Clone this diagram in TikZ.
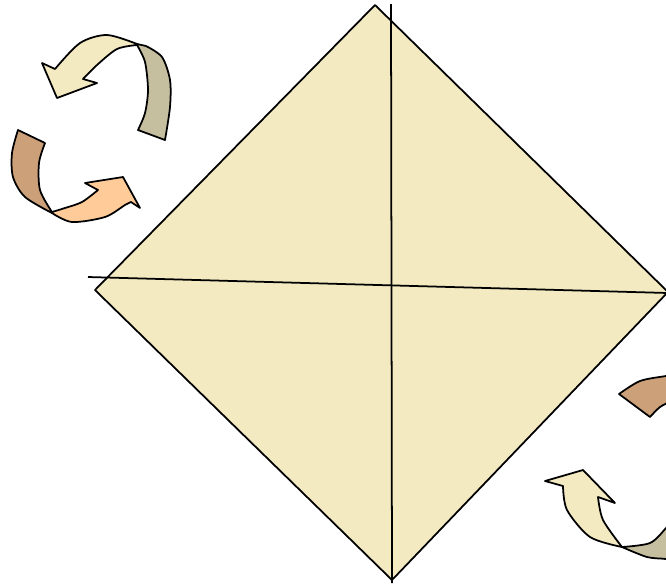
\documentclass[tikz,border=0pt]{standalone}
\usepackage{tikz}
\definecolor{paper}{HTML}{F3EAC2}
\definecolor{twist}{HTML}{C6BF9F}
\definecolor{clay}{HTML}{CCA078}
\definecolor{peach}{HTML}{FFCC99}
\begin{document}
\begin{tikzpicture}[x=0.02cm, y=-0.02cm, line width=1pt, line join=round,
    ribbon/.style={draw=black, fill=#1}]
\useasboundingbox (0,0) rectangle (666,583);
\clip (0,0) rectangle (666,583);

\coordinate (N) at (375,5);
\coordinate (E) at (668,292);
\coordinate (S) at (392,580);
\coordinate (W) at (95,290);
\coordinate (v1) at (391,4);
\coordinate (v2) at (392,583);
\coordinate (h1) at (88,277);
\coordinate (h2) at (668,293);

\filldraw[ribbon=paper] (N) -- (E) -- (S) -- (W) -- cycle;
\draw (v1) -- (v2);
\draw (h1) -- (h2);

% upper left arrow
\filldraw[ribbon=paper] (55,69) -- (42,63) -- (57,98) -- (97,83) -- (83,79)
    -- plot[smooth] coordinates {(83,79) (97,65) (117,49) (137,45)}
    -- plot[smooth] coordinates {(137,44) (107,35) (80,43) (55,69)} -- cycle;
\filldraw[ribbon=twist] (137,44) -- (146,46)
    -- plot[smooth] coordinates {(146,46) (162,57) (170,80) (170,107) (165,140)}
    -- (138,130)
    -- plot[smooth] coordinates {(138,130) (145,113) (148,90) (145,62) (137,45)} -- cycle;

% lower left arrow
\filldraw[ribbon=clay] (18,130) -- (45,143)
    -- plot[smooth] coordinates {(45,143) (39,163) (40,190) (52,212)}
    -- plot[smooth] coordinates {(52,213) (25,197) (13,177) (12,153) (18,130)} -- cycle;
\filldraw[ribbon=peach] (52,213)
    -- plot[smooth] coordinates {(52,213) (72,222) (105,217) (125,205) (131,202)}
    -- (140,208) -- (123,177) -- (85,183) -- (98,190)
    -- plot[smooth] coordinates {(98,190) (82,202) (65,208) (52,212)} -- cycle;

% lower right arrow
\filldraw[ribbon=paper] (545,481) -- (583,470) -- (615,503) -- (598,497)
    -- plot[smooth] coordinates {(598,497) (603,520) (622,547)}
    -- plot[smooth] coordinates {(622,547) (590,537) (567,510) (563,486)} -- cycle;
\filldraw[ribbon=twist] (622,547)
    -- plot[smooth] coordinates {(622,547) (650,543) (666,528) (676,515)}
    -- (678,562)
    -- plot[smooth] coordinates {(678,562) (666,559) (647,557) (622,547)} -- cycle;
\filldraw[ribbon=clay] (619,394) -- (650,417)
    -- plot[smooth] coordinates {(650,417) (660,407) (672,401) (680,399)}
    -- (680,374)
    -- plot[smooth] coordinates {(680,374) (666,376) (640,381) (619,394)} -- cycle;
\end{tikzpicture}
\end{document}
